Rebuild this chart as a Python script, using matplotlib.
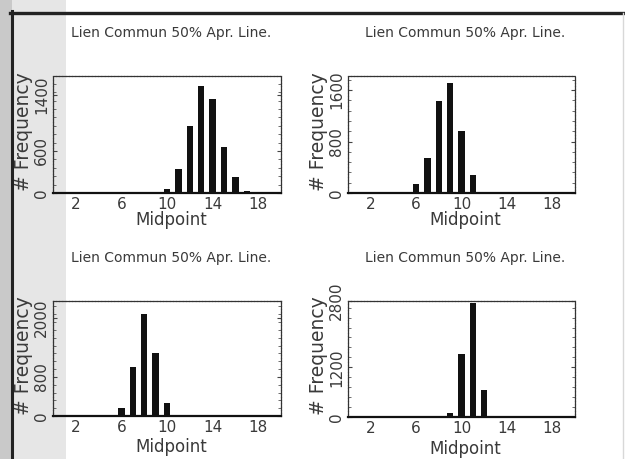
import matplotlib
matplotlib.use("Agg")
import matplotlib.pyplot as plt
from matplotlib.patches import Rectangle
from matplotlib.lines import Line2D
from matplotlib.ticker import AutoMinorLocator

# ---- data ----
title_text = "Lien Commun 50% Apr. Line."
xlabel_text = "Midpoint"
ylabel_text = "# Frequency"
x_ticks = [2, 6, 10, 14, 18]

p1_mid = [10, 11, 12, 13, 14, 15, 16, 17, 18]
p1_freq = [60, 340, 960, 1530, 1340, 660, 230, 30, 10]
p1_yticks = [0, 600, 1400]
p1_ymax = 1670

p2_mid = [5, 6, 7, 8, 9, 10, 11, 12]
p2_freq = [15, 140, 550, 1430, 1710, 970, 280, 20]
p2_yticks = [0, 800, 1600]
p2_ymax = 1820

p3_mid = [6, 7, 8, 9, 10]
p3_freq = [170, 1000, 2080, 1285, 265]
p3_yticks = [0, 800, 2000]
p3_ymax = 2350

p4_mid = [9, 10, 11, 12]
p4_freq = [100, 1520, 2750, 650]
p4_yticks = [0, 1200, 2800]
p4_ymax = 2800

panels = [
    (p1_mid, p1_freq, p1_yticks, p1_ymax),
    (p2_mid, p2_freq, p2_yticks, p2_ymax),
    (p3_mid, p3_freq, p3_yticks, p3_ymax),
    (p4_mid, p4_freq, p4_yticks, p4_ymax),
]

W, H = 625, 459
fig = plt.figure(figsize=(W / 100, H / 100), dpi=100)
fig.patch.set_facecolor("white")

# scan artefacts: grey margin and border lines (drawn beneath everything)
bg = fig.add_axes([0, 0, 1, 1], zorder=-10)
bg.set_xlim(0, W)
bg.set_ylim(H, 0)
bg.axis("off")
bg.add_patch(Rectangle((0, 0), 12, H, facecolor="#c9c9c9", edgecolor="none"))
bg.add_patch(Rectangle((12, 0), 54, H, facecolor="#e6e6e6", edgecolor="none"))
bg.add_line(Line2D([11.5, 11.5], [11, H], color="#222222", lw=2.2))
bg.add_line(Line2D([10, W], [12.5, 12.5], color="#222222", lw=2.4))
bg.add_line(Line2D([623, 623], [13, H], color="#d8d8d8", lw=1.0))

# axes boxes in pixels: left, right, top, bottom
boxes = [
    (53, 281, 76, 193),
    (348, 575, 76, 193),
    (53, 281, 301, 416),
    (348, 575, 301, 417),
]
title_y = [33, 33, 258, 258]
xlabel_y = [220, 220, 447, 449]

txt_col = "#3a3a3a"

for (mid, freq, yt, ymax), (l, r, t, b), ty, xy in zip(panels, boxes, title_y, xlabel_y):
    ax = fig.add_axes([l / W, 1 - b / H, (r - l) / W, (b - t) / H], zorder=2)
    ax.bar(mid, freq, width=0.55, color="#111111", zorder=3)
    ax.set_xlim(0, 20)
    ax.set_ylim(0, ymax)
    ax.set_xticks(x_ticks)
    ax.set_yticks(yt)
    ax.set_yticklabels([str(v) for v in yt], rotation=90, va="center")
    ax.yaxis.set_minor_locator(AutoMinorLocator(5))
    ax.tick_params(axis="x", length=0, pad=3, labelsize=11, labelcolor=txt_col)
    ax.tick_params(axis="y", which="major", direction="in", length=3, pad=3,
                   labelsize=11, labelcolor=txt_col, right=True, color="#444444")
    ax.tick_params(axis="y", which="minor", direction="in", length=2, right=True,
                   color="#555555")
    for s in ["left", "right", "top"]:
        ax.spines[s].set_color("#333333")
        ax.spines[s].set_linewidth(0.9)
        ax.spines[s].set_linestyle((0, (2, 0.6)))
    ax.spines["bottom"].set_color("#111111")
    ax.spines["bottom"].set_linewidth(1.6)
    ax.set_facecolor("none")

    cx = (l + r) / 2
    fig.text((cx + 4) / W, 1 - ty / H, title_text, ha="center", va="center",
             fontsize=10, color=txt_col, zorder=3)
    fig.text((cx + 4) / W, 1 - xy / H, xlabel_text, ha="center", va="center",
             fontsize=12, color=txt_col, zorder=3)
    fig.text((l - 29) / W, 1 - ((t + b) / 2 - 3) / H, ylabel_text, ha="center",
             va="center", rotation=90, fontsize=13.5, color=txt_col, zorder=3)

fig.savefig("out.png", dpi=100, facecolor=fig.get_facecolor())
